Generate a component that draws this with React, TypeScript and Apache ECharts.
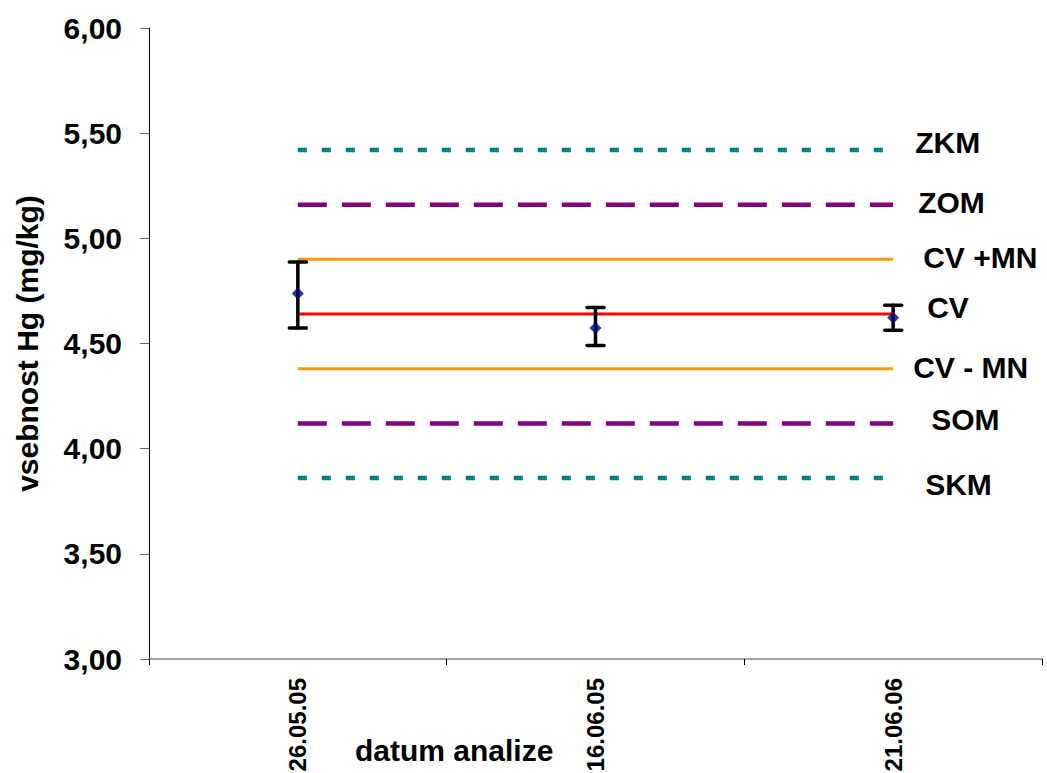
import { useEffect, useRef } from "react";
import * as echarts from "echarts";

// Analysis dates and measured mercury content with its uncertainty range
const dates = ["26.05.05", "16.06.05", "21.06.06"];
const measured = [4.738, 4.574, 4.622];
const lowerBound = [4.574, 4.49, 4.563];
const upperBound = [4.888, 4.671, 4.682];

// Control chart reference lines (mg/kg)
const limitNames = ["ZKM", "ZOM", "CV +MN", "CV", "CV - MN", "SOM", "SKM"];
const limitValues = [5.42, 5.16, 4.9, 4.64, 4.38, 4.12, 3.86];

// Y axis range
const yMin = 3;
const yMax = 6;
const yStep = 0.5;

const WIDTH = 1047;
const HEIGHT = 773;
const FONT = "'Liberation Sans', Arial, sans-serif";

// Look of each reference line, in the same order as limitNames
const limitStyles = [
  { color: "#008080", width: 4.5, type: [9, 15], offset: [22, -7] },
  { color: "#800080", width: 4.5, type: [29, 15], offset: [25, -2] },
  { color: "#FF9900", width: 3, type: "solid", offset: [30, -2] },
  { color: "#FF0000", width: 3, type: "solid", offset: [34, -7] },
  { color: "#FF9900", width: 3, type: "solid", offset: [20, -1] },
  { color: "#800080", width: 4.5, type: [29, 15], offset: [38, -4] },
  { color: "#008080", width: 4.5, type: [9, 15], offset: [32, 6] },
];

export default function App() {
  const ref = useRef<HTMLDivElement>(null);

  useEffect(() => {
    if (!ref.current) return;
    const chart = echarts.init(ref.current, null, {
      renderer: "svg",
      width: WIDTH,
      height: HEIGHT,
    });

    const limitSeries = limitNames.map((name, i) => {
      const st = limitStyles[i];
      return {
        name,
        type: "line",
        data: dates.map(() => limitValues[i]),
        symbol: "none",
        silent: true,
        z: 2,
        lineStyle: {
          color: st.color,
          width: st.width,
          type: st.type as any,
          cap: "butt",
        },
        endLabel: {
          show: true,
          formatter: name,
          distance: 0,
          offset: st.offset,
          color: "#000",
          fontFamily: FONT,
          fontWeight: "bold",
          fontSize: 30,
        },
      };
    });

    const errorData = dates.map((_, i) => [i, lowerBound[i], upperBound[i]]);

    chart.setOption({
      animation: false,
      backgroundColor: "#ffffff",
      grid: {
        left: 149,
        right: 5,
        top: 28,
        bottom: 114,
        containLabel: false,
        outerBoundsMode: "none",
      },
      xAxis: {
        type: "category",
        data: dates,
        boundaryGap: true,
        axisLine: { lineStyle: { color: "#808080", width: 1.5 } },
        axisTick: {
          show: true,
          alignWithLabel: false,
          length: 6,
          lineStyle: { color: "#000", width: 1 },
        },
        axisLabel: {
          rotate: 90,
          margin: 19,
          color: "#000",
          fontFamily: FONT,
          fontWeight: "bold",
          fontSize: 24,
        },
        splitLine: { show: false },
      },
      yAxis: {
        type: "value",
        min: yMin,
        max: yMax,
        interval: yStep,
        name: "vsebnost Hg (mg/kg)",
        nameLocation: "middle",
        nameGap: 107,
        nameTextStyle: {
          color: "#000",
          fontFamily: FONT,
          fontWeight: "bold",
          fontSize: 30,
        },
        axisLine: { show: true, lineStyle: { color: "#000", width: 1 } },
        axisTick: {
          show: true,
          length: 9,
          lineStyle: { color: "#666", width: 1 },
        },
        axisLabel: {
          margin: 27,
          color: "#000",
          fontFamily: FONT,
          fontWeight: "bold",
          fontSize: 30,
          formatter: (v: number) => v.toFixed(2).replace(".", ","),
        },
        splitLine: { show: false },
      },
      graphic: [
        {
          type: "text",
          left: 355,
          top: 735,
          style: {
            text: "datum analize",
            fill: "#000",
            font: `bold 30px ${FONT}`,
          },
        },
      ],
      series: [
        ...limitSeries,
        {
          name: "uncertainty",
          type: "custom",
          z: 5,
          silent: true,
          data: errorData,
          renderItem: (params: any, api: any) => {
            const x = api.value(0);
            const lo = api.coord([x, api.value(1)]);
            const hi = api.coord([x, api.value(2)]);
            const half = 8.5;
            const style = { stroke: "#000", lineWidth: 3.5, lineCap: "round" };
            return {
              type: "group",
              children: [
                { type: "line", shape: { x1: lo[0], y1: lo[1], x2: hi[0], y2: hi[1] }, style },
                { type: "line", shape: { x1: hi[0] - half, y1: hi[1], x2: hi[0] + half, y2: hi[1] }, style },
                { type: "line", shape: { x1: lo[0] - half, y1: lo[1], x2: lo[0] + half, y2: lo[1] }, style },
              ],
            };
          },
        },
        {
          name: "vsebnost Hg",
          type: "scatter",
          z: 6,
          silent: true,
          data: measured,
          symbol: "diamond",
          symbolSize: [12, 12],
          itemStyle: { color: "#000080" },
        },
      ],
    });

    return () => chart.dispose();
  }, []);

  return (
    <div
      ref={ref}
      style={{ position: "absolute", left: 0, top: 0, width: WIDTH, height: HEIGHT, background: "#fff" }}
    />
  );
}
